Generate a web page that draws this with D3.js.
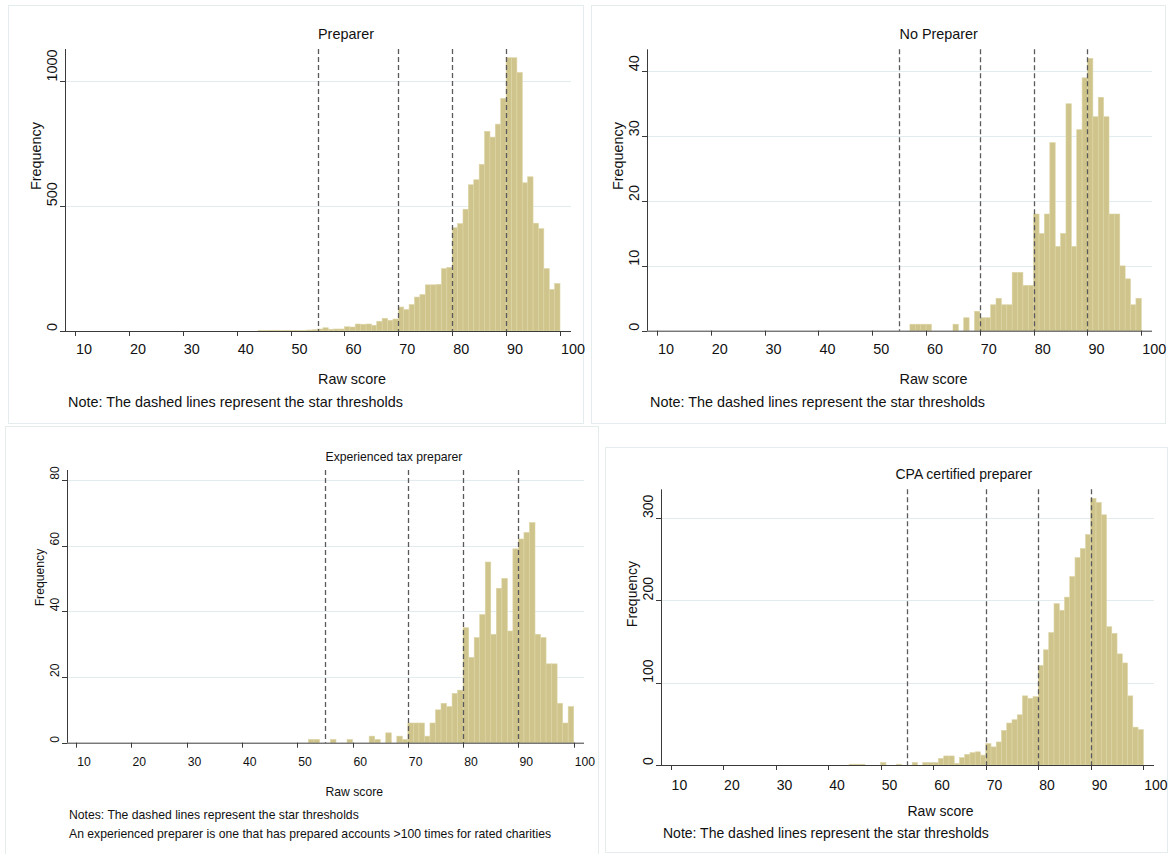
<!DOCTYPE html>
<html>
<head>
<meta charset="utf-8">
<script src="https://cdn.jsdelivr.net/npm/d3@7/dist/d3.min.js"></script>
<style>
  html, body { margin: 0; padding: 0; background: #ffffff; }
  svg { display: block; font-family: "Liberation Sans", Arial, Helvetica, sans-serif; }
</style>
</head>
<body>
<svg id="chart" width="1172" height="854"></svg>
<script>
// ---------------- DATA ----------------
const binStart = [44,45,46,47,48,49,50,51,52,53,54,55,56,57,58,59,60,61,62,63,64,65,66,67,68,69,
  70,71,72,73,74,75,76,77,78,79,80,81,82,83,84,85,86,87,88,89,90,91,92,93,94,95,96,97,98,99];

const preparerCounts = [2,2,3,3,2,3,2,2,2,4,5,8,13,7,8,8,17,16,28,27,28,23,39,51,43,48,
  96,86,106,136,146,185,185,187,250,255,414,430,488,586,606,668,800,777,829,932,1095,1095,1036,594,618,432,410,250,167,190];

const noPreparerCounts = [0,0,0,0,0,0,0,0,0,0,0,0,0,1,1,1,1,0,0,0,0,1,0,2,0,3,
  2,2,4,5,4,4,9,9,7,7,18,15,18,29,13,15,35,13,31,39,42,33,36,33,18,18,10,8,4,5];

const experiencedCounts = [0,0,0,0,0,0,0,0,1,1,0,0,1,0,0,1,0,0,0,2,1,0,3,0,2,1,
  6,6,6,2,6,10,12,11,15,16,35,26,32,39,55,33,47,50,34,59,62,64,67,33,32,24,24,12,6,11];

const cpaCounts = [1,1,1,0,0,0,3,0,0,1,0,0,3,0,3,3,3,8,11,11,2,9,13,15,16,12,
  26,22,28,42,51,55,61,84,81,83,121,140,161,196,188,204,229,252,263,280,324,319,304,168,160,135,124,84,46,43];

const xTickValues = [10,20,30,40,50,60,70,80,90,100];
const starThresholds = [55,70,80,90];

const preparerYTicks = [0,500,1000];
const noPreparerYTicks = [0,10,20,30,40];
const experiencedYTicks = [0,20,40,60,80];
const cpaYTicks = [0,100,200,300];

const panelTitles = ["Preparer","No Preparer","Experienced tax preparer","CPA certified preparer"];
const xAxisTitle = "Raw score";
const yAxisTitle = "Frequency";
const noteMain = "Note: The dashed lines represent the star thresholds";
const notesExperienced = ["Notes: The dashed lines represent the star thresholds",
  "An experienced preparer is one that has prepared accounts >100 times for rated charities"];

// ---------------- LAYOUT ----------------
const panels = [
  { counts: preparerCounts, yTicks: preparerYTicks, yMax: 1130, title: panelTitles[0], notes: [noteMain],
    frame: [8,5,583,423], ax0: 65, ax1: 571, x10: 75, x100: 560, yTop: 49, yBase: 331, fs: 14.4,
    titleY: 39, tickY: 354, xtY: 384, noteX: 68, noteY: [407], ytickX: 57, ytY: 41, titleDx: 0 },
  { counts: noPreparerCounts, yTicks: noPreparerYTicks, yMax: 43.4, title: panelTitles[1], notes: [noteMain],
    frame: [591,5,1165,423], ax0: 647, ax1: 1152, x10: 657, x100: 1141.3, yTop: 49.3, yBase: 330.7, fs: 14.4,
    titleY: 39, tickY: 354, xtY: 384, noteX: 650, noteY: [407], ytickX: 639, ytY: 623, titleDx: 0 },
  { counts: experiencedCounts, yTicks: experiencedYTicks, yMax: 83, title: panelTitles[2], notes: notesExperienced,
    frame: [5,426,598,858], ax0: 67, ax1: 584, x10: 76.2, x100: 573.7, yTop: 470, yBase: 742.7, fs: 12.2,
    titleY: 461, tickY: 766, xtY: 796, noteX: 69, noteY: [819, 838], ytickX: 59, ytY: 44, titleDx: 0 },
  { counts: cpaCounts, yTicks: cpaYTicks, yMax: 335, title: panelTitles[3], notes: [noteMain],
    frame: [605,447,1167,852], ax0: 661, ax1: 1154, x10: 670.6, x100: 1143.3, yTop: 489.3, yBase: 765, fs: 14,
    titleY: 479, tickY: 790, xtY: 816, noteX: 663, noteY: [838], ytickX: 653, ytY: 637, titleDx: -12 }
];

const svg = d3.select("#chart");
const barFill = "#cfc48b";
const barStroke = "#ddd5a6";

panels.forEach(p => {
  const g = svg.append("g");
  const [fx0, fy0, fx1, fy1] = p.frame;
  g.append("rect").attr("x", fx0 + 0.5).attr("y", fy0 + 0.5)
    .attr("width", fx1 - fx0).attr("height", fy1 - fy0)
    .attr("fill", "none").attr("stroke", "#e5eced").attr("stroke-width", 1);

  const x = d3.scaleLinear().domain([10, 100]).range([p.x10, p.x100]);
  const y = d3.scaleLinear().domain([0, p.yMax]).range([p.yBase, p.yTop]);

  // gridlines
  g.selectAll(".grid").data(p.yTicks.filter(v => v > 0)).join("line")
    .attr("x1", p.ax0).attr("x2", p.ax1)
    .attr("y1", d => Math.round(y(d)) + 0.5).attr("y2", d => Math.round(y(d)) + 0.5)
    .attr("stroke", "#e2ecef").attr("stroke-width", 1);

  // bars
  const bins = binStart.map((b, i) => ({ x0: b, x1: b + 1, n: p.counts[i] })).filter(d => d.n > 0);
  g.selectAll(".bar").data(bins).join("rect")
    .attr("x", d => x(d.x0)).attr("width", d => x(d.x1) - x(d.x0))
    .attr("y", d => y(d.n)).attr("height", d => y(0) - y(d.n))
    .attr("fill", barFill).attr("stroke", barStroke).attr("stroke-width", 0.6);

  // threshold lines
  g.selectAll(".thr").data(starThresholds).join("line")
    .attr("x1", d => Math.round(x(d)) + 0.5).attr("x2", d => Math.round(x(d)) + 0.5)
    .attr("y1", p.yTop).attr("y2", p.yBase)
    .attr("stroke", "#5a5a5a").attr("stroke-width", 1.3).attr("stroke-dasharray", "5,3");

  // x axis
  g.append("line").attr("x1", p.ax0).attr("x2", p.ax1)
    .attr("y1", p.yBase + 0.5).attr("y2", p.yBase + 0.5).attr("stroke", "#3a3a3a").attr("stroke-width", 1);
  g.selectAll(".xt").data(xTickValues).join("line")
    .attr("x1", d => Math.round(x(d)) + 0.5).attr("x2", d => Math.round(x(d)) + 0.5)
    .attr("y1", p.yBase).attr("y2", p.yBase + 5).attr("stroke", "#3a3a3a");
  g.selectAll(".xl").data(xTickValues).join("text")
    .attr("x", d => x(d) + 1).attr("y", p.tickY)
    .attr("font-size", p.fs).attr("fill", "#111").attr("text-anchor", "start")
    .text(d => d);

  // y axis
  g.append("line").attr("x1", p.ax0 + 0.5).attr("x2", p.ax0 + 0.5)
    .attr("y1", p.yTop).attr("y2", p.yBase).attr("stroke", "#3a3a3a").attr("stroke-width", 1);
  g.selectAll(".yt").data(p.yTicks).join("line")
    .attr("x1", p.ax0 - 5).attr("x2", p.ax0)
    .attr("y1", d => Math.round(y(d)) + 0.5).attr("y2", d => Math.round(y(d)) + 0.5)
    .attr("stroke", "#3a3a3a");
  g.selectAll(".yl").data(p.yTicks).join("text")
    .attr("transform", d => `translate(${p.ytickX},${y(d)}) rotate(-90)`)
    .attr("font-size", p.fs).attr("fill", "#111").attr("text-anchor", "start")
    .text(d => d);

  const midX = (p.ax0 + p.ax1) / 2;
  const midY = (p.yTop + p.yBase) / 2;

  g.append("text").attr("transform", `translate(${p.ytY},${midY}) rotate(-90)`)
    .attr("font-size", p.fs).attr("fill", "#111").attr("text-anchor", "start").text(yAxisTitle);

  g.append("text").attr("x", midX + p.titleDx).attr("y", p.titleY)
    .attr("font-size", p.fs).attr("fill", "#111").attr("text-anchor", "start").text(p.title);

  g.append("text").attr("x", midX).attr("y", p.xtY)
    .attr("font-size", p.fs).attr("fill", "#111").attr("text-anchor", "start").text(xAxisTitle);

  p.notes.forEach((t, i) => {
    g.append("text").attr("x", p.noteX).attr("y", p.noteY[i])
      .attr("font-size", p.fs).attr("fill", "#111").text(t);
  });
});
</script>
</body>
</html>
